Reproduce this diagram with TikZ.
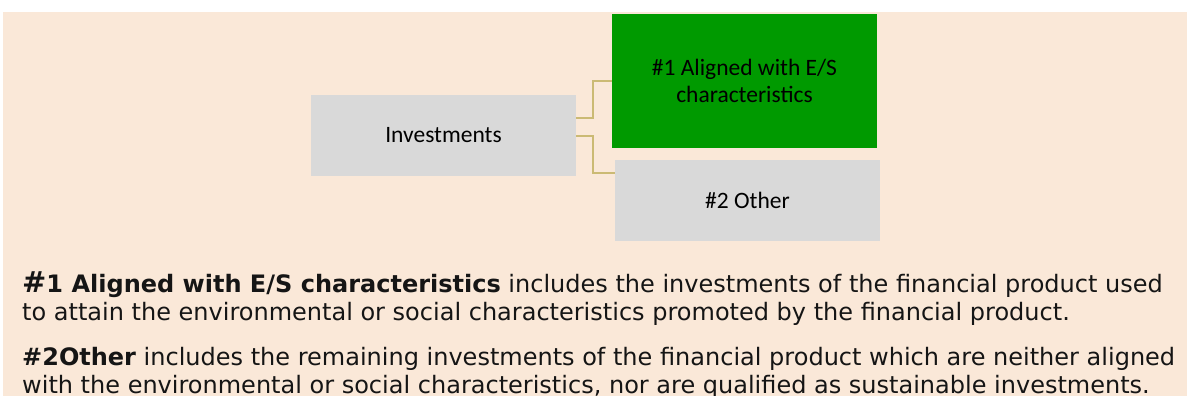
\documentclass[tikz,border=0pt]{standalone}
\usepackage{fontspec}
\setmainfont{DejaVu Sans}
\newfontfamily\boxfont{Carlito}
\definecolor{bgpeach}{HTML}{FAE8D8}
\definecolor{boxgray}{HTML}{D9D9D9}
\definecolor{boxgreen}{HTML}{009A00}
\definecolor{linktan}{HTML}{CBBA74}
\definecolor{bodytext}{HTML}{151515}
\tikzset{
  box/.style={draw=none, minimum width=265pt, inner sep=0pt, align=center,
    font=\boxfont\fontsize{23.5}{27}\selectfont, text=black},
  link/.style={draw=linktan, line width=2pt},
  bodyline/.style={anchor=base west, inner sep=0pt, text=bodytext,
    font=\fontsize{24}{28}\selectfont}
}
\begin{document}
\begin{tikzpicture}[x=1pt,y=-1pt]
\useasboundingbox (0,0) rectangle (1187,396);
\fill[white] (0,0) rectangle (1187,396);
\fill[bgpeach] (3,12) rectangle (1187,396);
\node[box, fill=boxgray, minimum height=81pt] (inv) at (443.5,135.5) {Investments};
\node[box, fill=boxgreen, minimum height=134pt] (al) at (744.5,81) {\#1 Aligned with E/S\\characteristics};
\node[box, fill=boxgray, minimum height=81pt] (oth) at (747.5,200.5) {\#2 Other};
\coordinate (j1) at (593,118);
\coordinate (j2) at (593,136);
\draw[link] (inv.east |- j1) -- (j1) |- (al.west |- 0,81);
\draw[link] (inv.east |- j2) -- (j2) |- (oth.west |- 0,173);
\node[bodyline] (l1) at (22,292) {\textbf{{\fontsize{29}{28}\selectfont\#}1 Aligned with E/S characteristics} includes the investments of the financial product used};
\node[bodyline] (l2) at (22,320) {to attain the environmental or social characteristics promoted by the financial product.};
\node[bodyline] (l3) at (22,365) {\textbf{\#2Other} includes the remaining investments of the financial product which are neither aligned};
\node[bodyline] (l4) at (22,393) {with the environmental or social characteristics, nor are qualified as sustainable investments.};
\end{tikzpicture}
\end{document}
